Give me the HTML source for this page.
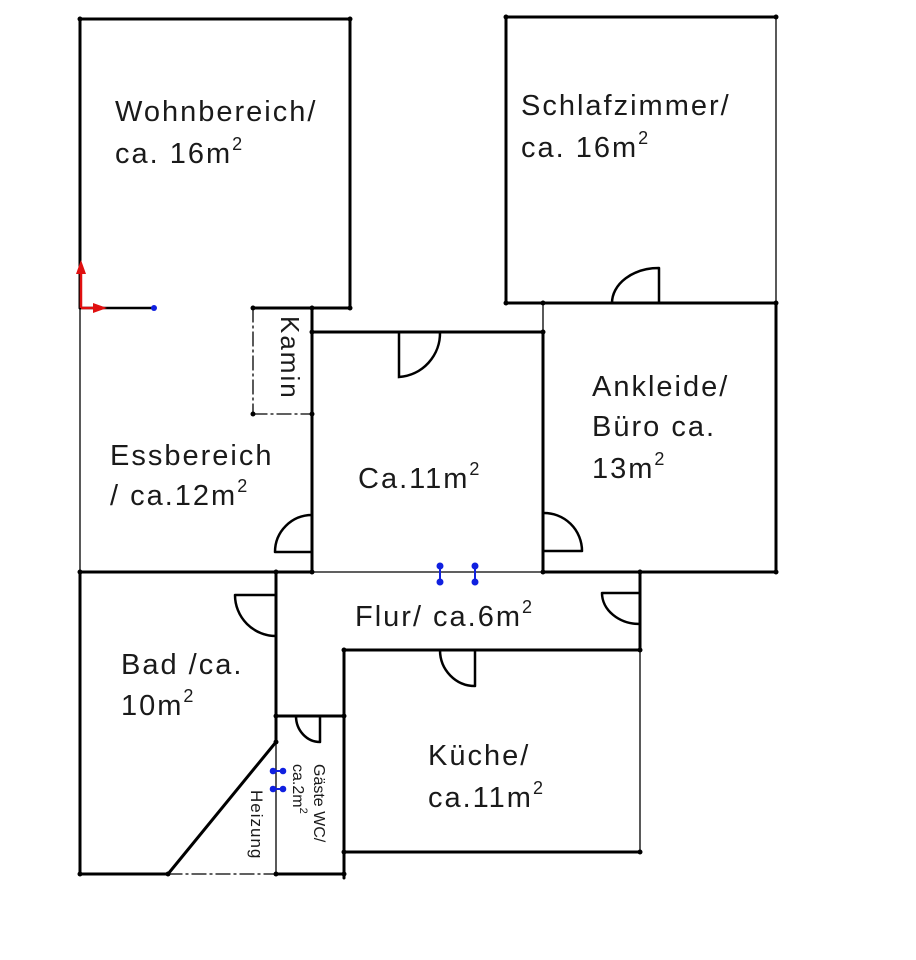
<!DOCTYPE html>
<html><head><meta charset="utf-8"><style>
html,body{margin:0;padding:0;background:#fff;}
svg{display:block;}
text{font-family:"Liberation Sans",sans-serif;fill:#1a1a1a;}
</style></head><body>
<svg width="916" height="960" viewBox="0 0 916 960" xmlns="http://www.w3.org/2000/svg">
<g stroke="#000" fill="none" stroke-linecap="round">
<g stroke-width="3">
<polyline points="80,308 80,19 350,19 350,308 253,308"/>
<polyline points="506,303 506,17 776,17"/>
<line x1="506" y1="303" x2="776" y2="303"/>
<polyline points="776,303 776,572 543,572 543,332 312,332"/>
<line x1="312" y1="308" x2="312" y2="572"/>
<line x1="80" y1="572" x2="312" y2="572"/>
<polyline points="640,572 640,650 344,650 344,878"/>
<line x1="344" y1="852" x2="640" y2="852"/>
<polyline points="80,572 80,874 168,874"/>
<line x1="276" y1="874" x2="344" y2="874"/>
<line x1="276" y1="572" x2="276" y2="742"/>
<line x1="276" y1="716" x2="344" y2="716"/>
<line x1="276" y1="742" x2="168" y2="874"/>
<line x1="80" y1="308" x2="154" y2="308" stroke-width="2.5"/>
</g>
<g stroke-width="1.3">
<line x1="80" y1="308" x2="80" y2="572"/>
<line x1="776" y1="17" x2="776" y2="303"/>
<line x1="543" y1="303" x2="543" y2="332"/>
<line x1="312" y1="572" x2="543" y2="572"/>
<line x1="640" y1="650" x2="640" y2="852"/>
<line x1="276" y1="742" x2="276" y2="874"/>
<line x1="253" y1="308" x2="253" y2="414" stroke-dasharray="14,4,2,4"/>
<line x1="253" y1="414" x2="312" y2="414" stroke-dasharray="14,4,2,4"/>
<line x1="168" y1="874" x2="276" y2="874" stroke-dasharray="14,4,2,4"/>
</g>
<g stroke-width="2.5">
<path d="M275,552 L312,552 M275,552 A37,37 0 0 1 312,515"/>
<path d="M399,332 L399,377 A44,44 0 0 0 440,332"/>
<path d="M659,303 L659,268 M612,303 A47,35 0 0 1 659,268"/>
<path d="M543,551 L582,551 M543,513 A38,38 0 0 1 582,551"/>
<path d="M640,593 L602,593 M602,593 A38,31 0 0 0 640,624"/>
<path d="M475,650 L475,686 M440,650 A35,36 0 0 0 475,686"/>
<path d="M276,595 L235,595 M235,595 A41,41 0 0 0 276,636"/>
<path d="M320,716 L320,742 M296,716 A24,26 0 0 0 320,742"/>
</g>
</g>
<g fill="#000">
<circle cx="80" cy="19" r="2.5"/><circle cx="350" cy="19" r="2.5"/><circle cx="350" cy="308" r="2.5"/>
<circle cx="253" cy="308" r="2.5"/><circle cx="312" cy="308" r="2.5"/><circle cx="253" cy="414" r="2.5"/><circle cx="312" cy="414" r="2.5"/>
<circle cx="506" cy="17" r="2.5"/><circle cx="776" cy="17" r="2.5"/><circle cx="506" cy="303" r="2.5"/><circle cx="776" cy="303" r="2.5"/>
<circle cx="543" cy="303" r="2.5"/><circle cx="543" cy="332" r="2.5"/><circle cx="312" cy="332" r="2.5"/>
<circle cx="776" cy="572" r="2.5"/><circle cx="543" cy="572" r="2.5"/><circle cx="312" cy="572" r="2.5"/><circle cx="80" cy="572" r="2.5"/>
<circle cx="640" cy="572" r="2.5"/><circle cx="640" cy="650" r="2.5"/><circle cx="344" cy="650" r="2.5"/><circle cx="640" cy="852" r="2.5"/><circle cx="344" cy="852" r="2.5"/>
<circle cx="80" cy="874" r="2.5"/><circle cx="168" cy="874" r="2.5"/><circle cx="276" cy="874" r="2.5"/><circle cx="344" cy="874" r="2.5"/>
<circle cx="276" cy="572" r="2.5"/><circle cx="276" cy="716" r="2.5"/><circle cx="344" cy="716" r="2.5"/><circle cx="276" cy="742" r="2.5"/>
</g>
<g stroke="#e01010" stroke-width="2.5" fill="#e01010">
<line x1="81" y1="308" x2="81" y2="272"/><polygon points="76,274 81,260 86,274" stroke="none"/>
<line x1="81" y1="308" x2="95" y2="308"/><polygon points="93,303 107,308 93,313" stroke="none"/>
</g>
<circle cx="154" cy="308" r="3" fill="#1020e0"/>
<g stroke="#1020e0" stroke-width="2" fill="#1020e0">
<line x1="440" y1="566" x2="440" y2="582"/><circle cx="440" cy="566" r="2.5"/><circle cx="440" cy="582" r="2.5"/>
<line x1="475" y1="566" x2="475" y2="582"/><circle cx="475" cy="566" r="2.5"/><circle cx="475" cy="582" r="2.5"/>
<line x1="273" y1="771" x2="283" y2="771"/><circle cx="273" cy="771" r="2.3"/><circle cx="283" cy="771" r="2.3"/>
<line x1="273" y1="789" x2="283" y2="789"/><circle cx="273" cy="789" r="2.3"/><circle cx="283" cy="789" r="2.3"/>
</g>
<g font-size="29" letter-spacing="2">
<text x="115" y="121">Wohnbereich/</text>
<text x="115" y="163">ca. 16m<tspan font-size="18" dy="-13">2</tspan></text>
<text x="521" y="115">Schlafzimmer/</text>
<text x="521" y="157">ca. 16m<tspan font-size="18" dy="-13">2</tspan></text>
<text x="110" y="465">Essbereich</text>
<text x="110" y="505">/ ca.12m<tspan font-size="18" dy="-13">2</tspan></text>
<text x="358" y="488">Ca.11m<tspan font-size="18" dy="-13">2</tspan></text>
<text x="592" y="396">Ankleide/</text>
<text x="592" y="436">Büro ca.</text>
<text x="592" y="478">13m<tspan font-size="18" dy="-13">2</tspan></text>
<text x="355" y="626">Flur/ ca.6m<tspan font-size="18" dy="-13">2</tspan></text>
<text x="121" y="674">Bad /ca.</text>
<text x="121" y="715">10m<tspan font-size="18" dy="-13">2</tspan></text>
<text x="428" y="765">Küche/</text>
<text x="428" y="807">ca.11m<tspan font-size="18" dy="-13">2</tspan></text>
</g>
<text font-size="26" letter-spacing="2" transform="translate(281,316) rotate(90)">Kamin</text>
<text font-size="16" transform="translate(314,764) rotate(90)">Gäste WC/</text>
<text font-size="16" transform="translate(293,764) rotate(90)">ca.2m<tspan font-size="11" dy="-7">2</tspan></text>
<text font-size="17" letter-spacing="1" transform="translate(251,790) rotate(90)">Heizung</text>
</svg>
</body></html>
